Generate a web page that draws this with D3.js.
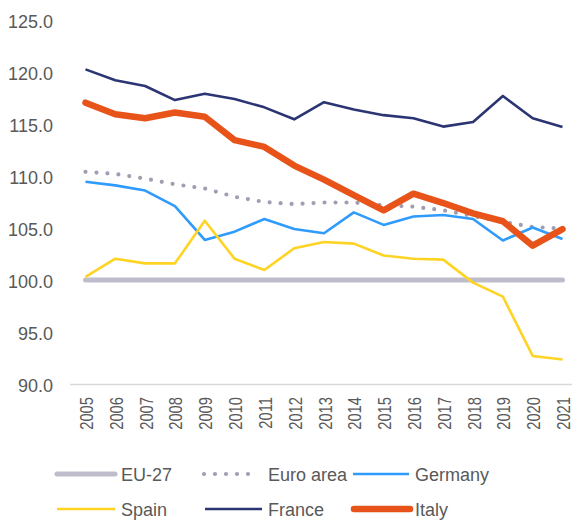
<!DOCTYPE html>
<html>
<head>
<meta charset="utf-8">
<script src="https://cdn.jsdelivr.net/npm/d3@7"></script>
<style>
  html, body { margin: 0; padding: 0; background: #fff; }
  svg { display: block; font-family: "Liberation Sans", Arial, sans-serif; }
</style>
</head>
<body>
<svg id="chart" width="572" height="520"></svg>
<script>
const years = [2005,2006,2007,2008,2009,2010,2011,2012,2013,2014,2015,2016,2017,2018,2019,2020,2021];
const yTicks = [90,95,100,105,110,115,120,125];

const eu27     = [100,100,100,100,100,100,100,100,100,100,100,100,100,100,100,100,100];
const euroArea = [110.4,110.2,109.75,109.2,108.8,108.0,107.5,107.3,107.45,107.45,107.2,107.05,106.7,106.15,105.6,105.1,104.95];
const germany  = [109.45,109.1,108.6,107.1,103.85,104.65,105.87,104.9,104.5,106.5,105.3,106.1,106.25,105.87,103.8,105.05,103.95];
const spain    = [100.3,102.05,101.6,101.6,105.7,102.05,100.96,103.05,103.65,103.5,102.35,102.05,101.96,99.75,98.4,92.7,92.35];
const france   = [120.25,119.2,118.65,117.3,117.9,117.4,116.6,115.45,117.1,116.4,115.85,115.55,114.75,115.2,117.7,115.55,114.7];
const italy    = [117.05,115.93,115.55,116.1,115.7,113.45,112.8,111.0,109.65,108.15,106.7,108.3,107.4,106.4,105.65,103.3,104.9];

const seriesNames = ["EU-27","Euro area","Germany","Spain","France","Italy"];
const seriesData = [eu27, euroArea, germany, spain, france, italy];
const styles = [
  {color:"#BFBDCB", width:5,   dash:null,   cap:"round"},
  {color:"#A19EB1", width:4.2, dash:"0,11", cap:"round"},
  {color:"#2F9BFC", width:2.6, dash:null,   cap:"butt"},
  {color:"#FFD324", width:2.6, dash:null,   cap:"butt"},
  {color:"#2C3573", width:2.6, dash:null,   cap:"butt"},
  {color:"#E8531A", width:6.5, dash:null,   cap:"round"}
];

const svg = d3.select("#chart");
const x = d3.scalePoint().domain(years).range([85.5, 562.5]);
const y = d3.scaleLinear().domain([90, 125]).range([384, 20]);
const textColor = "#595959";

// y tick labels
svg.append("g").selectAll("text").data(yTicks).join("text")
  .attr("x", 53).attr("y", d => y(d) + 7.5)
  .attr("text-anchor", "end")
  .attr("font-size", 18).attr("fill", textColor)
  .text(d => d.toFixed(1));

// x axis line
svg.append("line").attr("x1", 70).attr("x2", 572)
  .attr("y1", y(90) + 0.5).attr("y2", y(90) + 0.5)
  .attr("stroke", "#D9D9D9").attr("stroke-width", 1.5);

// x labels
svg.append("g").selectAll("text").data(years).join("text")
  .attr("transform", d => `translate(${x(d) + 7.5},397) rotate(-90) scale(0.82,1)`)
  .attr("text-anchor", "end")
  .attr("font-size", 18).attr("fill", textColor)
  .text(d => d);

// lines
const line = d3.line().x((d, i) => x(years[i])).y(d => y(d));
seriesData.forEach((data, k) => {
  const s = styles[k];
  svg.append("path").datum(data)
    .attr("d", line)
    .attr("fill", "none")
    .attr("stroke", s.color)
    .attr("stroke-width", s.width)
    .attr("stroke-linecap", s.cap)
    .attr("stroke-linejoin", "round")
    .attr("stroke-dasharray", s.dash);
});

// legend
const legendPos = [
  {lx1:57, lx2:115, tx:121, y:474},
  {lx1:204, lx2:258, tx:268, y:474},
  {lx1:353, lx2:409, tx:415, y:474},
  {lx1:57, lx2:115, tx:121, y:509},
  {lx1:205, lx2:262, tx:268, y:509},
  {lx1:354, lx2:410, tx:415, y:509}
];
const lg = svg.append("g");
seriesNames.forEach((name, k) => {
  const p = legendPos[k], s = styles[k];
  lg.append("line")
    .attr("x1", p.lx1).attr("x2", p.lx2).attr("y1", p.y).attr("y2", p.y)
    .attr("stroke", s.color)
    .attr("stroke-width", k === 1 ? 4.2 : (k === 0 ? 5 : (k === 5 ? 6.5 : 2.6)))
    .attr("stroke-linecap", k === 1 ? "round" : (k === 0 || k === 5 ? "round" : "butt"))
    .attr("stroke-dasharray", s.dash);
  lg.append("text")
    .attr("x", p.tx).attr("y", p.y + 6.5)
    .attr("font-size", 18).attr("fill", textColor)
    .text(name);
});
</script>
</body>
</html>
